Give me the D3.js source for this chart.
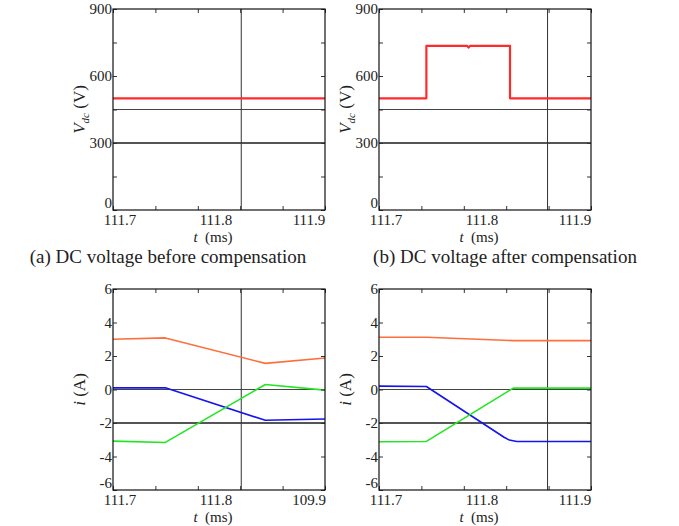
<!DOCTYPE html>
<html>
<head>
<meta charset="utf-8">
<script src="https://cdn.jsdelivr.net/npm/d3@7"></script>
<style>
  body { margin: 0; background: #fff; }
  svg text { font-family: "Liberation Serif", "Times New Roman", Times, "DejaVu Serif", "Nimbus Roman", FreeSerif, serif; fill: #222; }
</style>
</head>
<body>
<svg id="chart" width="679" height="526"></svg>
<script>
// time axis (ms)
const tRange = [111.7, 111.9];
const tTickLabelsTop = ['111.7', '111.8', '111.9'];
const tTickLabelsC = ['111.7', '111.8', '109.9'];   // typo kept as in the figure

// DC voltage, before compensation
const tVa = [111.7, 111.9];
const vdcA = [500, 500];

// DC voltage, after compensation
const tVb = [111.7, 111.7447, 111.7447, 111.783, 111.7845, 111.786, 111.8236, 111.8236, 111.9];
const vdcB = [500, 500, 735, 735, 727, 735, 735, 500, 500];

// currents, before compensation
const tIc = [111.7, 111.7494, 111.8437, 111.9];
const iaC = [3.0, 3.08, 1.56, 1.88];
const ibC = [0.1, 0.1, -1.84, -1.76];
const icC = [-3.08, -3.16, 0.3, -0.04];

// currents, after compensation
const tId = [111.7, 111.7447, 111.8266, 111.9];
const iaD = [3.12, 3.12, 2.92, 2.92];
const icD = [-3.12, -3.1, 0.08, 0.08];
const tIdB = [111.7, 111.7447, 111.818, 111.823, 111.83, 111.9];
const ibD = [0.2, 0.18, -2.85, -3.02, -3.1, -3.1];

// reference lines and cursors
const vRefs = [450, 300];
const iRefs = [0, -2];
const cursorA = 111.821;
const cursorB = 111.859;

const svg = d3.select('#chart');
const W = 212, H = 201;
const FONT = '"Liberation Serif", "Times New Roman", Times, "DejaVu Serif", "Nimbus Roman", FreeSerif, serif';

const panels = [
  { left: 113, top: 9, yDom: [0, 900], yLabels: [0, 300, 600, 900], yMinor: d3.range(0, 901, 150),
    refs: vRefs, cursor: cursorA, xLabels: tTickLabelsTop, ylab: 'V', sub: 'dc', capX: 168,
    caption: '(a) DC voltage before compensation',
    series: [{ t: tVa, v: vdcA, color: '#ff2b2b', w: 2.2 }] },
  { left: 379, top: 9, yDom: [0, 900], yLabels: [0, 300, 600, 900], yMinor: d3.range(0, 901, 150),
    refs: vRefs, cursor: cursorB, xLabels: tTickLabelsTop, ylab: 'V', sub: 'dc', capX: 505,
    caption: '(b) DC voltage after compensation',
    series: [{ t: tVb, v: vdcB, color: '#ff2b2b', w: 2.2 }] },
  { left: 113, top: 289, yDom: [-6, 6], yLabels: d3.range(-6, 7, 2), yMinor: d3.range(-6, 7, 2),
    refs: iRefs, cursor: cursorA, xLabels: tTickLabelsC, ylab: 'i', sub: '',
    series: [
      { t: tIc, v: iaC, color: '#ff6e3c', w: 1.6 },
      { t: tIc, v: ibC, color: '#1414f0', w: 1.6 },
      { t: tIc, v: icC, color: '#22e622', w: 1.6 }] },
  { left: 379, top: 289, yDom: [-6, 6], yLabels: d3.range(-6, 7, 2), yMinor: d3.range(-6, 7, 2),
    refs: iRefs, cursor: cursorB, xLabels: tTickLabelsTop, ylab: 'i', sub: '',
    series: [
      { t: tId, v: iaD, color: '#ff6e3c', w: 1.6 },
      { t: tIdB, v: ibD, color: '#1414f0', w: 1.6 },
      { t: tId, v: icD, color: '#22e622', w: 1.6 }] }
];

const labelShift = [7, -3, -16];

panels.forEach(p => {
  const g = svg.append('g').attr('transform', `translate(${p.left},${p.top})`);
  const x = d3.scaleLinear().domain(tRange).range([0, W]);
  const y = d3.scaleLinear().domain(p.yDom).range([H, 0]);
  const xMinor = d3.range(0, 6).map(i => tRange[0] + i * (tRange[1] - tRange[0]) / 5);

  // reference lines
  g.append('line').attr('x1', 0).attr('x2', W).attr('y1', y(p.refs[0])).attr('y2', y(p.refs[0]))
    .attr('stroke', '#444').attr('stroke-width', 1);
  g.append('line').attr('x1', 0).attr('x2', W).attr('y1', y(p.refs[1])).attr('y2', y(p.refs[1]))
    .attr('stroke', '#555').attr('stroke-width', 2);
  // cursor
  g.append('line').attr('x1', x(p.cursor)).attr('x2', x(p.cursor)).attr('y1', 0).attr('y2', H)
    .attr('stroke', '#333').attr('stroke-width', 1);

  const line = d3.line().x(d => x(d[0])).y(d => y(d[1]));
  p.series.forEach(s => {
    g.append('path').datum(s.t.map((t, i) => [t, s.v[i]]))
      .attr('d', line).attr('fill', 'none').attr('stroke', s.color)
      .attr('stroke-width', s.w).attr('stroke-linejoin', 'round');
  });

  // inward ticks on all four sides
  const tk = 4;
  g.append('g').call(d3.axisBottom(x).tickValues(xMinor).tickSize(tk).tickFormat(''))
    .call(a => a.select('.domain').remove()).selectAll('line').attr('stroke', '#333');
  g.append('g').attr('transform', `translate(0,${H})`)
    .call(d3.axisTop(x).tickValues(xMinor).tickSize(tk).tickFormat(''))
    .call(a => a.select('.domain').remove()).selectAll('line').attr('stroke', '#333');
  g.append('g').call(d3.axisRight(y).tickValues(p.yMinor).tickSize(tk).tickFormat(''))
    .call(a => a.select('.domain').remove()).selectAll('line').attr('stroke', '#333');
  g.append('g').attr('transform', `translate(${W},0)`)
    .call(d3.axisLeft(y).tickValues(p.yMinor).tickSize(tk).tickFormat(''))
    .call(a => a.select('.domain').remove()).selectAll('line').attr('stroke', '#333');

  // frame
  g.append('rect').attr('width', W).attr('height', H).attr('fill', 'none')
    .attr('stroke', '#111').attr('stroke-width', 1.2);

  // y tick labels (lowest one lifted so it clears the time labels)
  g.selectAll('.ylab').data(p.yLabels).join('text')
    .attr('font-family', FONT)
    .attr('x', -1).attr('y', (d, i) => y(d) - (i === 0 ? 7 : 0)).attr('dy', '0.35em')
    .attr('text-anchor', 'end').attr('font-size', 15).text(d => d);

  // x tick labels
  g.selectAll('.xlab').data(p.xLabels).join('text')
    .attr('font-family', FONT)
    .attr('x', (d, i) => x(tRange[0] + i * (tRange[1] - tRange[0]) / 2) + labelShift[i])
    .attr('y', H + 15).attr('text-anchor', 'middle').attr('font-size', 15).text(d => d);

  // x title
  const xt = g.append('text').attr('font-family', FONT).attr('x', W / 2 - 6).attr('y', H + 32)
    .attr('text-anchor', 'middle').attr('font-size', 15);
  xt.append('tspan').attr('font-style', 'italic').text('t');
  xt.append('tspan').text('\u00a0\u00a0(ms)');

  // y title
  const yt = g.append('text').attr('font-family', FONT)
    .attr('transform', `translate(-28,${H / 2}) rotate(-90)`)
    .attr('text-anchor', 'middle').attr('font-size', 17);
  yt.append('tspan').attr('font-style', 'italic').text(p.ylab);
  if (p.sub) {
    yt.append('tspan').attr('font-style', 'italic').attr('font-size', 11).attr('dy', 4).text(p.sub);
    yt.append('tspan').attr('dy', -4).text('\u00a0(V)');
  } else {
    yt.append('tspan').text('\u00a0(A)');
  }

  if (p.caption) {
    svg.append('text').attr('font-family', FONT).attr('x', p.capX).attr('y', 263)
      .attr('text-anchor', 'middle').attr('font-size', 19).text(p.caption);
  }
});
</script>
</body>
</html>
